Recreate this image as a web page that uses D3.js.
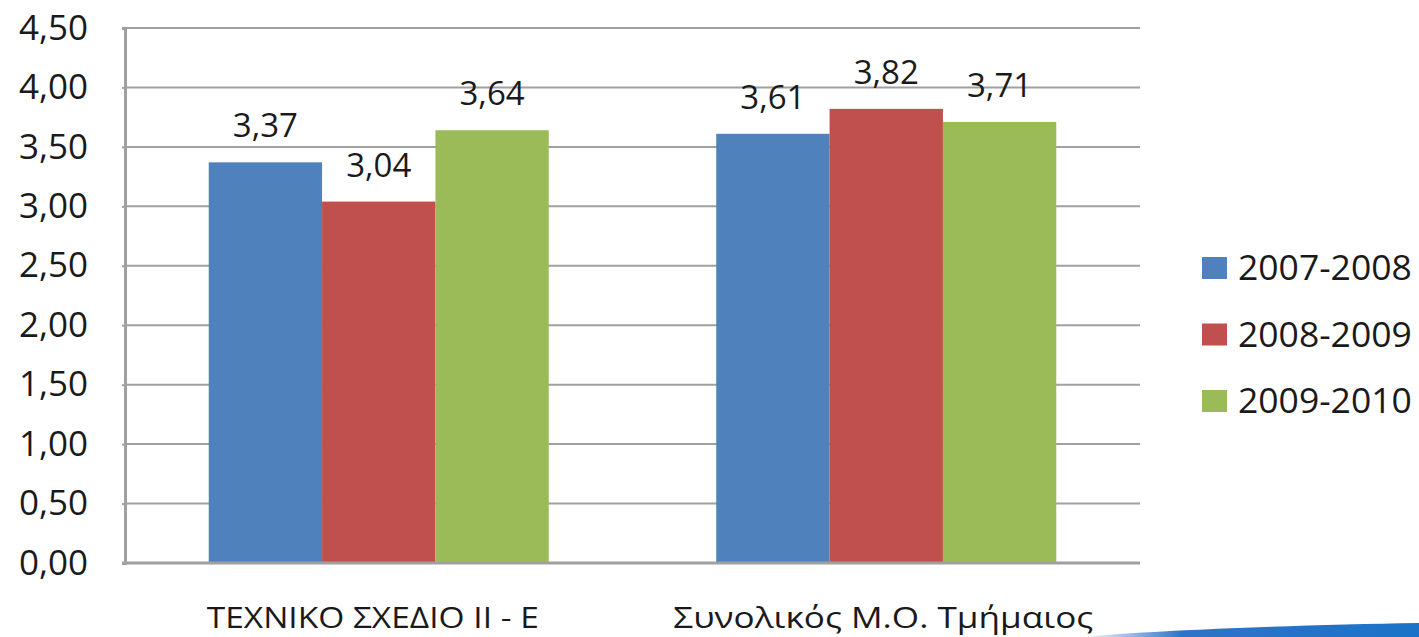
<!DOCTYPE html>
<html><head><meta charset="utf-8">
<script src="https://cdn.jsdelivr.net/npm/d3@7"></script>
<style>html,body{margin:0;padding:0;background:#fff;}svg{display:block;}</style>
</head><body>
<svg id="chart" width="1419" height="637"></svg>
<script>
const categories = ["ΤΕΧΝΙΚΟ ΣΧΕΔΙΟ ΙΙ - Ε", "Συνολικός Μ.Ο. Τμήμαιος"];
const seriesNames = ["2007-2008", "2008-2009", "2009-2010"];
const values2007 = [3.37, 3.61];
const values2008 = [3.04, 3.82];
const values2009 = [3.64, 3.71];
const yTicks = [0, 0.5, 1, 1.5, 2, 2.5, 3, 3.5, 4, 4.5];
const colors = ["#4F81BD", "#C0504D", "#9BBB59"];

const seriesValues = [values2007, values2008, values2009];
const fmt = v => d3.format(".2f")(v).replace(".", ",");

const svg = d3.select("#chart");
const mLeft = 125, mRight = 1140, mTop = 28, mBottom = 563;

const y = d3.scaleLinear().domain([0, 4.5]).range([mBottom, mTop]);
const x0 = d3.scaleBand().domain(categories).range([mLeft, mRight]).paddingInner(0.33).paddingOuter(0.165);
const x1 = d3.scaleBand().domain(seriesNames).range([0, x0.bandwidth()]).padding(0);

const font = "'Open Sans', sans-serif";
const textColor = "#1a1a1a";

// gridlines
svg.append("g").selectAll("line").data(yTicks.filter(d => d > 0)).join("line")
  .attr("x1", mLeft).attr("x2", mRight)
  .attr("y1", d => y(d)).attr("y2", d => y(d))
  .attr("stroke", "#a0a0a0").attr("stroke-width", 2);

// bars
const groups = svg.append("g").selectAll("g").data(categories).join("g")
  .attr("transform", d => `translate(${x0(d)},0)`);
groups.each(function(cat, ci) {
  const g = d3.select(this);
  seriesNames.forEach((s, si) => {
    const v = seriesValues[si][ci];
    g.append("rect")
      .attr("x", x1(s)).attr("width", x1.bandwidth())
      .attr("y", y(v)).attr("height", y(0) - y(v))
      .attr("fill", colors[si]);
    g.append("text")
      .attr("x", x1(s) + x1.bandwidth() / 2)
      .attr("y", y(v) - 25)
      .attr("text-anchor", "middle")
      .attr("font-family", font).attr("font-size", 33)
      .attr("fill", textColor)
      .text(fmt(v));
  });
});

// y axis
const yAxis = d3.axisLeft(y).tickValues(yTicks).tickFormat(fmt).tickSize(3).tickPadding(34);
const ya = svg.append("g").attr("transform", `translate(${mLeft},0)`).call(yAxis);
ya.select(".domain").attr("stroke", "#a0a0a0").attr("stroke-width", 3);
ya.selectAll(".tick line").attr("stroke", "#a0a0a0").attr("stroke-width", 2);
ya.selectAll(".tick text").attr("font-family", font).attr("font-size", 35).attr("fill", textColor);

// x axis
const xAxis = d3.axisBottom(x0).tickSize(0).tickPadding(44);
const xa = svg.append("g").attr("transform", `translate(0,${mBottom})`).call(xAxis);
xa.select(".domain").attr("stroke", "#a0a0a0").attr("stroke-width", 3).attr("d", `M${mLeft - 3},0H${mRight}`);
const catWidths = [332, 420];
xa.selectAll(".tick text").attr("font-family", font).attr("font-size", 29).attr("fill", textColor)
  .attr("textLength", (d, i) => catWidths[i]).attr("lengthAdjust", "spacingAndGlyphs")
  .attr("dx", (d, i) => i === 0 ? -6 : -3);

// legend
const legend = svg.append("g").selectAll("g").data(seriesNames).join("g")
  .attr("transform", (d, i) => `translate(1202,${268 + i * 66.5})`);
legend.append("rect").attr("x", 0).attr("y", -11).attr("width", 25).attr("height", 22)
  .attr("fill", (d, i) => colors[i]);
legend.append("text").attr("x", 36).attr("y", 0).attr("dy", "0.35em")
  .attr("font-family", font).attr("font-size", 35.5).attr("fill", textColor)
  .text(d => d);

// decorative swoosh
const defs = svg.append("defs");
const grad = defs.append("linearGradient").attr("id", "sw").attr("x1", "0").attr("x2", "1");
grad.append("stop").attr("offset", "0").attr("stop-color", "#ffffff");
grad.append("stop").attr("offset", "0.3").attr("stop-color", "#2f73c8");
grad.append("stop").attr("offset", "1").attr("stop-color", "#1a73c8");
svg.append("path")
  .attr("d", "M1080,637 C1160,630 1300,625 1419,623 L1419,637 Z")
  .attr("fill", "url(#sw)");
</script>
</body></html>
